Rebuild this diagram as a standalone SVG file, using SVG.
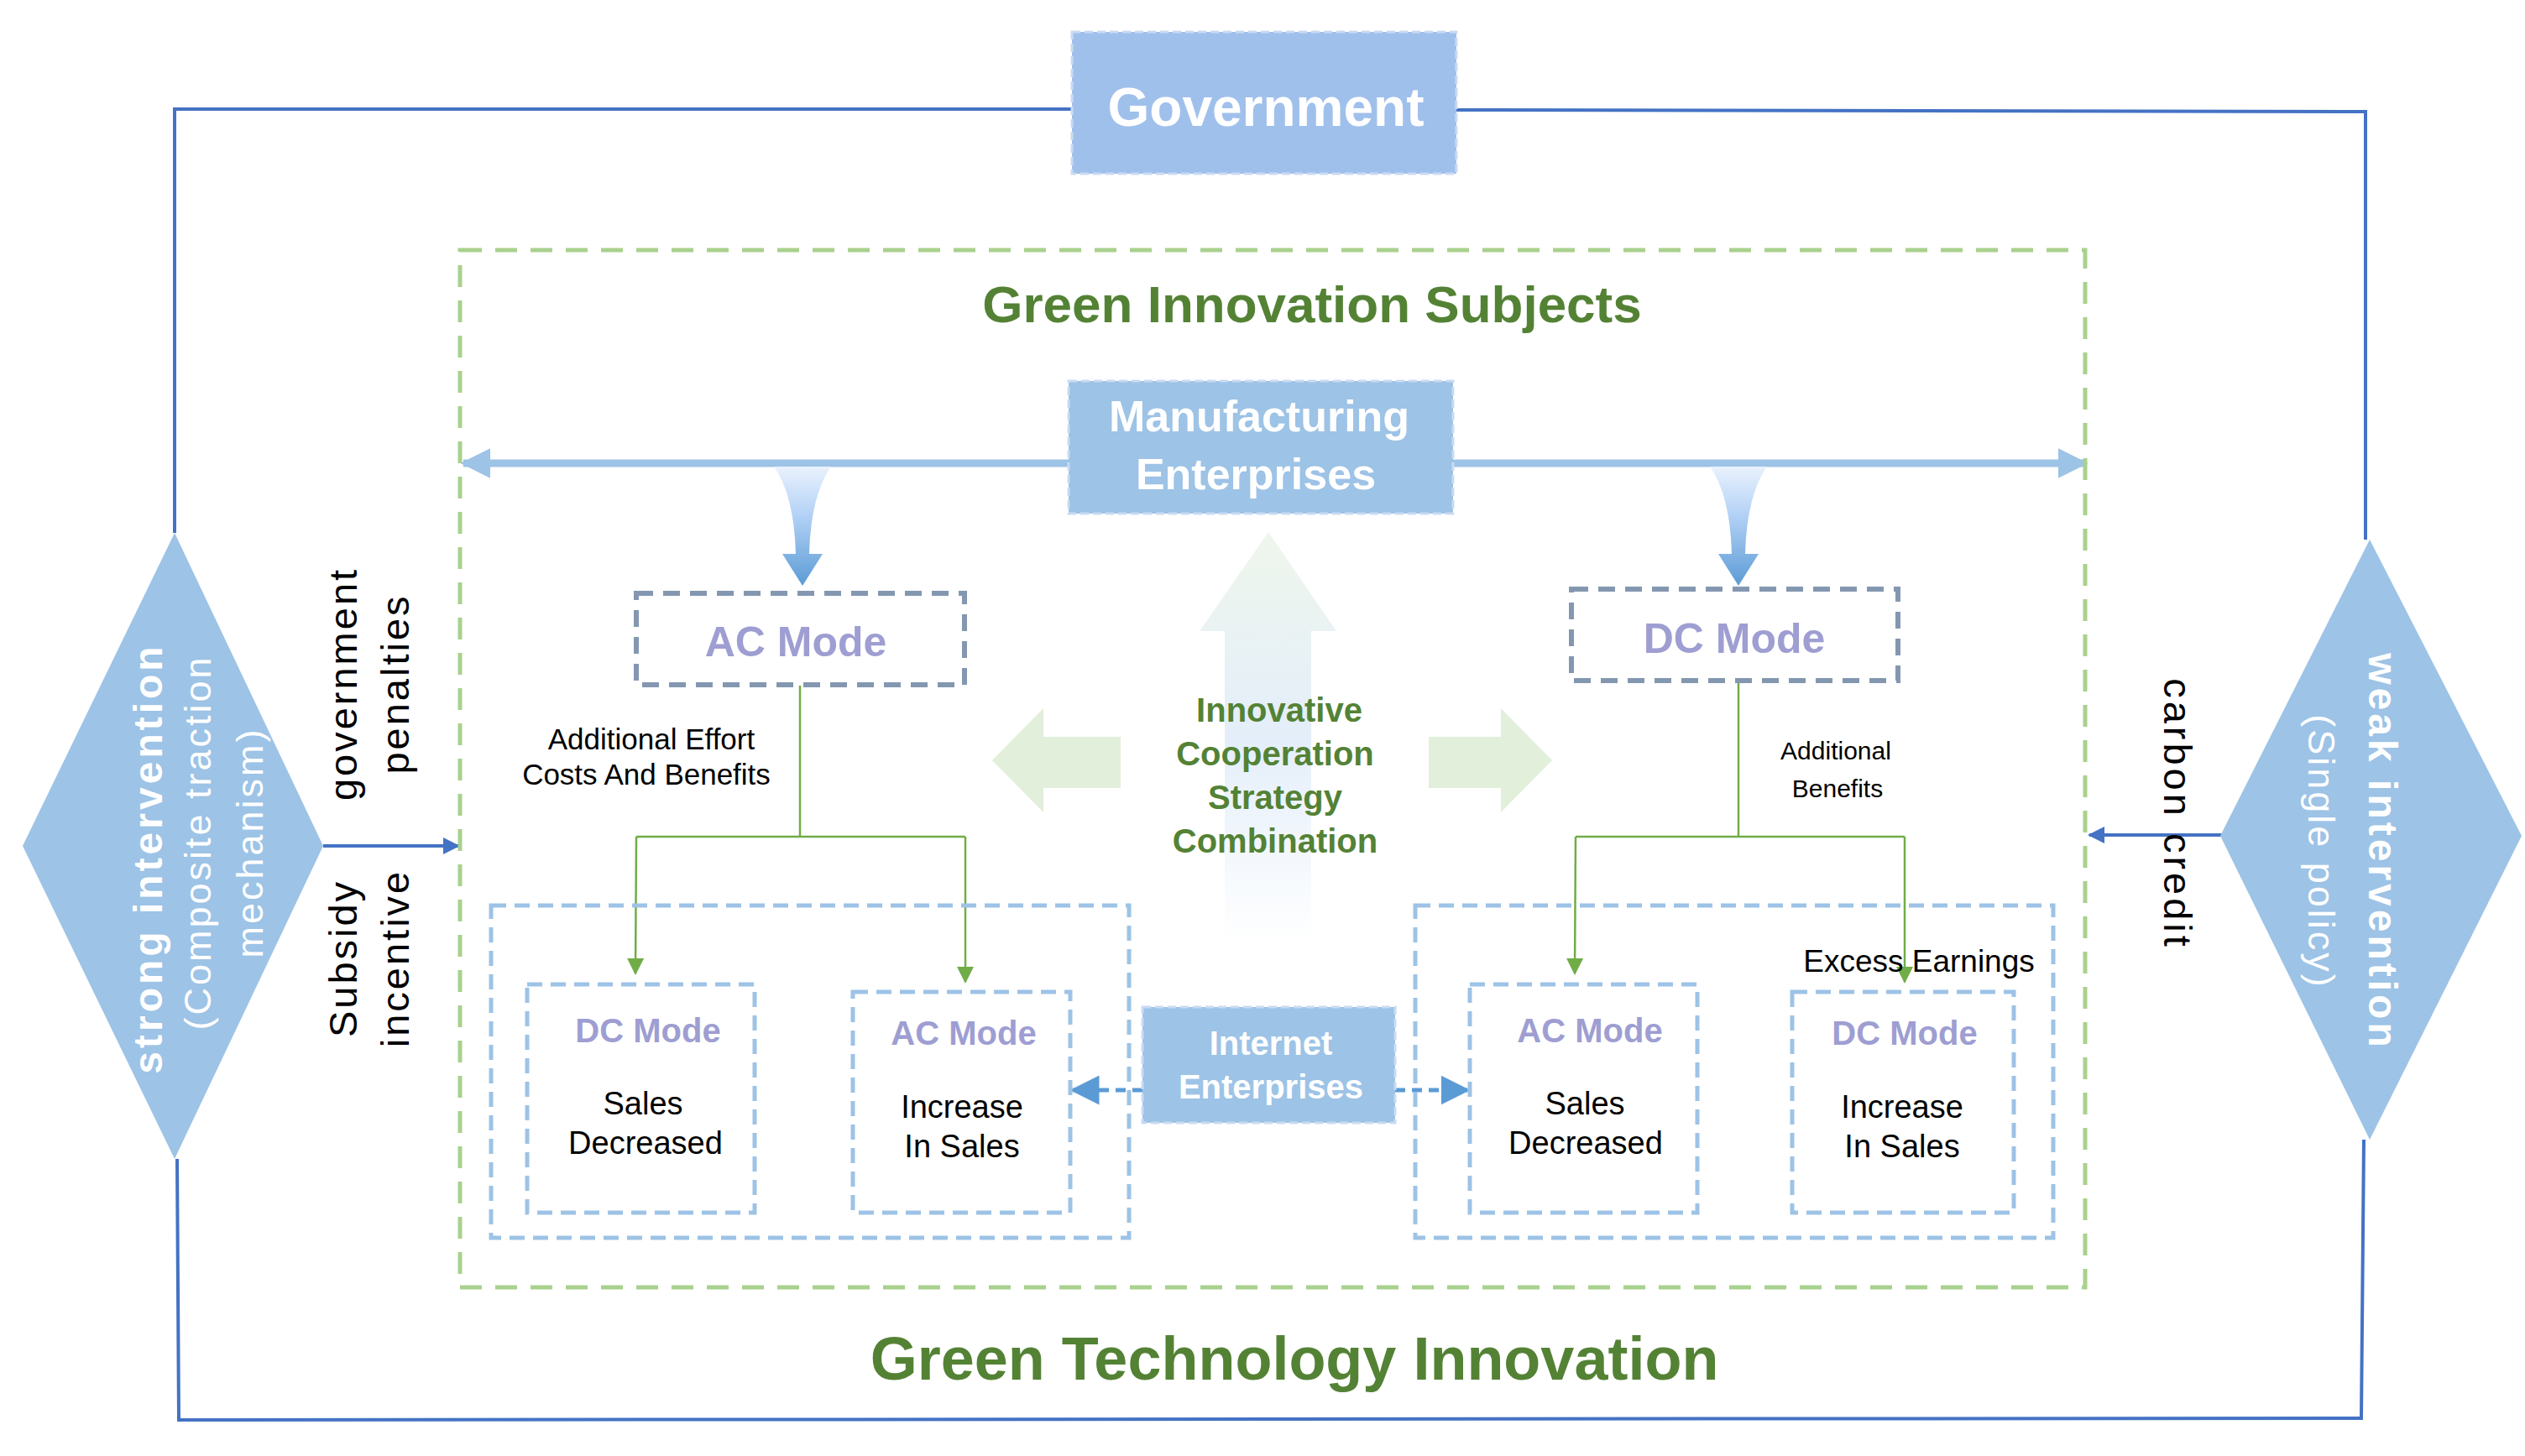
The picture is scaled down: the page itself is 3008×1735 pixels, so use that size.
<svg xmlns="http://www.w3.org/2000/svg" width="3008" height="1735" viewBox="0 0 3008 1735">
<defs>
<style>
text{font-family:"Liberation Sans",Arial,sans-serif}
.w{fill:#fff;font-weight:bold;text-anchor:middle}
.g{fill:#548235;font-weight:bold;text-anchor:middle}
.m{fill:#9E9ED2;font-weight:bold;text-anchor:middle}
.k{fill:#000;text-anchor:middle}
.loop{fill:none;stroke:#4472C4;stroke-width:4}
.gl{fill:none;stroke:#70AD47;stroke-width:2.5}
.bd{fill:none;stroke:#9DC3E6;stroke-width:5;stroke-dasharray:18 10}
.md{fill:#fff;stroke:#8497B0;stroke-width:6;stroke-dasharray:20 12}
.fb{stroke:#C9DBF3;stroke-width:3;stroke-dasharray:10 5}
</style>
<marker id="ab" viewBox="0 0 10 10" refX="9" refY="5" markerWidth="5" markerHeight="5" orient="auto"><path d="M0,0L10,5L0,10z" fill="#4472C4"/></marker>
<marker id="ag" viewBox="0 0 10 10" refX="9" refY="5" markerWidth="24" markerHeight="20" orient="auto" markerUnits="userSpaceOnUse"><path d="M0,0L10,5L0,10z" fill="#70AD47"/></marker>
<marker id="ah" viewBox="0 0 10 10" refX="9" refY="5" markerWidth="4" markerHeight="4" orient="auto"><path d="M0,0L10,5L0,10z" fill="#9DC3E6"/></marker>
<marker id="ad" viewBox="0 0 10 10" refX="9" refY="5" markerWidth="7" markerHeight="7" orient="auto"><path d="M0,0L10,5L0,10z" fill="#5B9BD5"/></marker>
<linearGradient id="fun" x1="0" y1="0" x2="0" y2="1"><stop offset="0" stop-color="#EAF2FD"/><stop offset="0.4" stop-color="#B4D2F6"/><stop offset="1" stop-color="#5B9BD5"/></linearGradient>
<linearGradient id="up" x1="0" y1="0" x2="0" y2="1"><stop offset="0" stop-color="#EFF6EC"/><stop offset="0.5" stop-color="#E4EEFA"/><stop offset="1" stop-color="#FFFFFF"/></linearGradient>
</defs>

<g id="connectors">
<polyline class="loop" points="1279,130 208,130 208,635"/>
<polyline class="loop" points="1735,131 2818,133 2818,643"/>
<polyline class="loop" points="211,1381 213,1692 2813,1690 2816,1358"/>
<line class="loop" x1="385" y1="1008" x2="546" y2="1008" marker-end="url(#ab)"/>
<line class="loop" x1="2650" y1="995" x2="2489" y2="995" marker-end="url(#ab)"/>
<line x1="1273" y1="552" x2="552" y2="552" stroke="#9DC3E6" stroke-width="9" marker-end="url(#ah)"/>
<line x1="1731" y1="552" x2="2484" y2="552" stroke="#9DC3E6" stroke-width="9" marker-end="url(#ah)"/>
<path d="M922,556 L990,556 Q966,590 964,660 L980,660 L956,698 L932,660 L948,660 Q946,590 922,556z" fill="url(#fun)"/>
<path d="M2037,556 L2105,556 Q2081,590 2079,660 L2095,660 L2071,698 L2047,660 L2063,660 Q2061,590 2037,556z" fill="url(#fun)"/>
<polyline class="gl" points="953,817 953,997"/>
<polyline class="gl" points="758,997 1150,997"/>
<line class="gl" x1="758" y1="997" x2="757" y2="1160" marker-end="url(#ag)"/>
<line class="gl" x1="1150" y1="997" x2="1150" y2="1170" marker-end="url(#ag)"/>
<polyline class="gl" points="2071,811 2071,997"/>
<polyline class="gl" points="1877,997 2269,997"/>
<line class="gl" x1="1877" y1="997" x2="1876" y2="1160" marker-end="url(#ag)"/>
<line class="gl" x1="2269" y1="997" x2="2269" y2="1170" marker-end="url(#ag)"/>
<line x1="1361" y1="1299" x2="1278" y2="1299" stroke="#5B9BD5" stroke-width="5" stroke-dasharray="12 8" marker-end="url(#ad)"/>
<line x1="1662" y1="1299" x2="1748" y2="1299" stroke="#5B9BD5" stroke-width="5" stroke-dasharray="12 8" marker-end="url(#ad)"/>
</g>

<g id="bigarrows">
<path d="M1511,634 L1592,752 L1562,752 L1562,1125 L1459,1125 L1459,752 L1429,752z" fill="url(#up)"/>
<path d="M1182,906 L1243,844 L1243,878 L1335,878 L1335,939 L1243,939 L1243,968z" fill="#E2EFDA"/>
<path d="M1849,906 L1788,844 L1788,878 L1702,878 L1702,939 L1788,939 L1788,968z" fill="#E2EFDA"/>
</g>

<g id="government">
<rect x="1277" y="38" width="458" height="169" fill="#A0C0EC" class="fb"/>
<text x="1508" y="150" class="w" font-size="64">Government</text>
</g>

<g id="subjects">
<rect x="548" y="298" width="1936" height="1236" fill="none" stroke="#A9D18E" stroke-width="5" stroke-dasharray="26 16"/>
<text x="1563" y="384" class="g" font-size="62">Green Innovation Subjects</text>
</g>

<g id="manufacturing">
<rect x="1273" y="454" width="458" height="158" fill="#9DC3E6" class="fb"/>
<text x="1500" y="514" class="w" font-size="52">Manufacturing</text>
<text x="1496" y="583" class="w" font-size="52">Enterprises</text>
</g>

<g id="ac-top">
<rect x="758" y="707" width="391" height="109" class="md"/>
<text x="948" y="782" class="m" font-size="50">AC Mode</text>
</g>
<g id="dc-top">
<rect x="1872" y="702" width="389" height="109" class="md"/>
<text x="2066" y="778" class="m" font-size="50">DC Mode</text>
</g>

<g id="labels">
<text x="776" y="893" class="k" font-size="35">Additional Effort</text>
<text x="770" y="935" class="k" font-size="35">Costs And Benefits</text>
<text x="2187" y="905" class="k" font-size="30">Additional</text>
<text x="2189" y="950" class="k" font-size="30">Benefits</text>
<text x="2286" y="1158" class="k" font-size="37">Excess Earnings</text>
</g>

<g id="strategy">
<text x="1524" y="860" class="g" font-size="40">Innovative</text>
<text x="1519" y="912" class="g" font-size="40">Cooperation</text>
<text x="1519" y="964" class="g" font-size="40">Strategy</text>
<text x="1519" y="1016" class="g" font-size="40">Combination</text>
</g>

<g id="left-group">
<rect x="585" y="1079" width="760" height="396" class="bd"/>
</g>
<g id="left-dc">
<rect x="628" y="1173" width="271" height="272" class="bd"/>
<text x="772" y="1242" class="m" font-size="40">DC Mode</text>
<text x="766" y="1328" class="k" font-size="38">Sales</text>
<text x="769" y="1375" class="k" font-size="38">Decreased</text>
</g>
<g id="left-ac">
<rect x="1016" y="1182" width="259" height="263" class="bd"/>
<text x="1148" y="1245" class="m" font-size="40">AC Mode</text>
<text x="1146" y="1332" class="k" font-size="38">Increase</text>
<text x="1146" y="1379" class="k" font-size="38">In Sales</text>
</g>
<g id="right-group">
<rect x="1686" y="1079" width="760" height="396" class="bd"/>
</g>
<g id="right-ac">
<rect x="1751" y="1173" width="271" height="272" class="bd"/>
<text x="1894" y="1242" class="m" font-size="40">AC Mode</text>
<text x="1888" y="1328" class="k" font-size="38">Sales</text>
<text x="1889" y="1375" class="k" font-size="38">Decreased</text>
</g>
<g id="right-dc">
<rect x="2135" y="1182" width="264" height="263" class="bd"/>
<text x="2269" y="1245" class="m" font-size="40">DC Mode</text>
<text x="2266" y="1332" class="k" font-size="38">Increase</text>
<text x="2266" y="1379" class="k" font-size="38">In Sales</text>
</g>

<g id="internet">
<rect x="1361" y="1200" width="301" height="138" fill="#9DC3E6" class="fb"/>
<text x="1514" y="1257" class="w" font-size="40">Internet</text>
<text x="1514" y="1309" class="w" font-size="40">Enterprises</text>
</g>

<g id="strong">
<path d="M208,635 L385,1008 L208,1381 L27,1008z" fill="#9DC3E6"/>
<text transform="translate(193,1023) rotate(-90)" class="w" font-size="48" letter-spacing="4">strong intervention</text>
<text transform="translate(251,1004) rotate(-90)" fill="#fff" text-anchor="middle" font-size="45" letter-spacing="3">(Composite traction</text>
<text transform="translate(313,1004) rotate(-90)" fill="#fff" text-anchor="middle" font-size="45" letter-spacing="3">mechanism)</text>
</g>
<g id="weak">
<path d="M2823,643 L3004,996 L2823,1358 L2645,996z" fill="#9DC3E6"/>
<text transform="translate(2822,1015) rotate(90)" class="w" font-size="48" letter-spacing="4">weak intervention</text>
<text transform="translate(2750,1015) rotate(90)" fill="#fff" text-anchor="middle" font-size="45" letter-spacing="3">(Single policy)</text>
</g>

<g id="policy-labels">
<text transform="translate(425,815) rotate(-90)" class="k" font-size="47" letter-spacing="3">government</text>
<text transform="translate(487,815) rotate(-90)" class="k" font-size="47" letter-spacing="3">penalties</text>
<text transform="translate(425,1142) rotate(-90)" class="k" font-size="47" letter-spacing="3">Subsidy</text>
<text transform="translate(487,1142) rotate(-90)" class="k" font-size="47" letter-spacing="3">incentive</text>
<text transform="translate(2578,970) rotate(90)" class="k" font-size="47" letter-spacing="4">carbon credit</text>
</g>

<g id="gti">
<text x="1542" y="1644" class="g" font-size="72">Green Technology Innovation</text>
</g>
</svg>
